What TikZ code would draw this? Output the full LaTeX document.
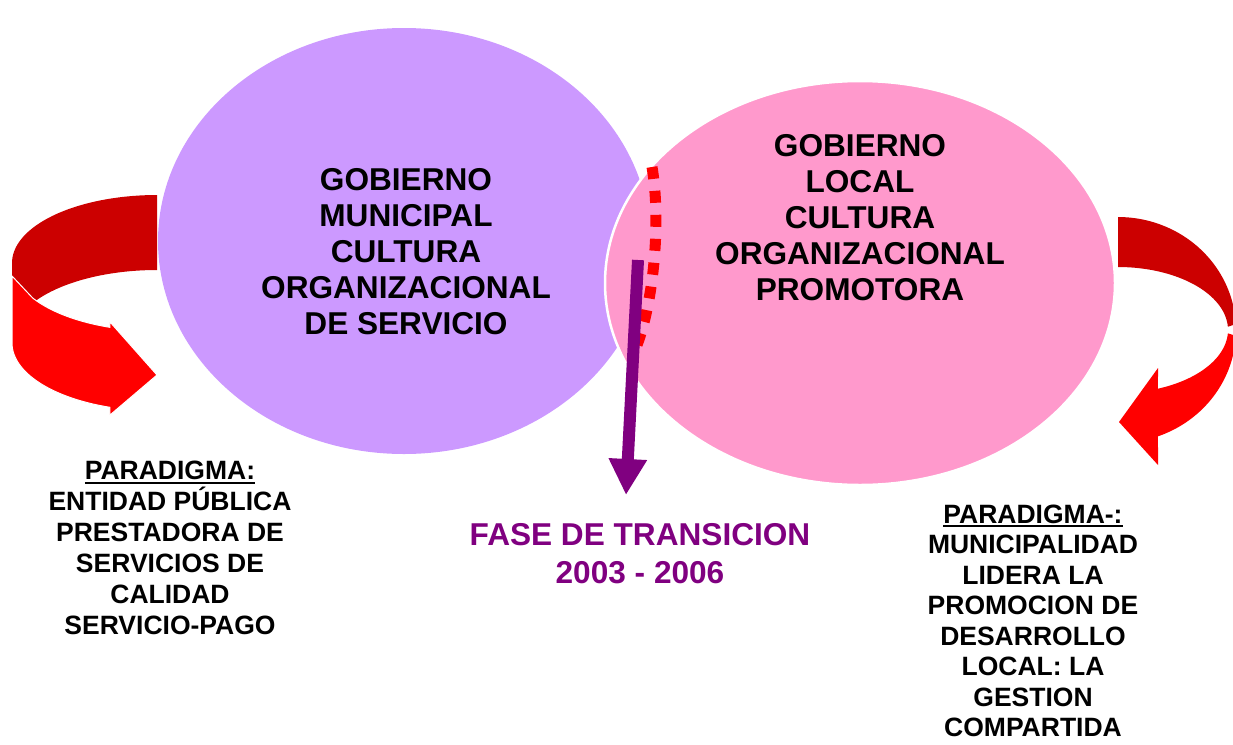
\documentclass[tikz,border=0pt]{standalone}
\usepackage{fontspec}
\setmainfont{Liberation Sans}
\usetikzlibrary{arrows.meta,shapes.geometric}
\definecolor{lav}{HTML}{CC99FF}
\definecolor{pinkc}{HTML}{FF99CC}
\definecolor{dred}{HTML}{CC0000}
\definecolor{bred}{HTML}{FF0000}
\definecolor{purp}{HTML}{800080}
\newcommand\myul[1]{\setbox0\hbox{#1}\rlap{\rule[-4pt]{\wd0}{2pt}}\box0}
\tikzset{
  ell/.style={ellipse,inner sep=0pt,outer sep=0pt},
  bigtxt/.style={align=center,inner sep=0pt,font=\fontsize{31.6}{36}\selectfont\bfseries},
  fasetxt/.style={align=center,inner sep=0pt,text=purp,font=\fontsize{31.6}{38}\selectfont\bfseries},
  partxt/.style={align=center,inner sep=0pt,font=\fontsize{26.5}{31}\selectfont\bfseries},
  partxtr/.style={align=center,inner sep=0pt,font=\fontsize{26.5}{30.5}\selectfont\bfseries},
  dotline/.style={draw=bred,line width=11pt,dash pattern=on 12pt off 12pt},
  purparrow/.style={draw=purp,line width=12pt,-{Triangle[length=36pt,width=36pt]}}
}
\begin{document}
\begin{tikzpicture}[x=1pt,y=-1pt]
\useasboundingbox (0,0) rectangle (1233,744);
% ellipses
\node[ell,fill=lav,minimum width=492pt,minimum height=426pt] (gm) at (404,241) {};
\node[ell,fill=pinkc,draw=white,line width=2.5pt,minimum width=510pt,minimum height=404pt] (gl) at (860,283) {};
% ellipse texts
\node[bigtxt] (tgm) at (406,251.5) {GOBIERNO\\MUNICIPAL\\CULTURA\\ORGANIZACIONAL\\DE SERVICIO};
\node[bigtxt] (tgl) at (860,217.5) {GOBIERNO\\LOCAL\\CULTURA\\ORGANIZACIONAL\\PROMOTORA};
% left curved arrow
\fill[dred] plot[domain=90:180,samples=40] ({157+145*cos(\x)},{263-68*sin(\x)}) -- (12,276)
  -- plot[domain=149:90,samples=40] ({157+145*cos(\x)},{338-68*sin(\x)}) -- cycle;
\filldraw[fill=bred,draw=white,line width=1pt] (12,276)
  -- plot[domain=211:251,samples=30] ({157+145*cos(\x)},{263-68*sin(\x)})
  -- (110,322) -- (157,375) -- (110,415)
  -- plot[domain=251:180,samples=30] ({157+145*cos(\x)},{343-68*sin(\x)}) -- cycle;
% right curved arrow
\fill[dred] plot[domain=90:3,samples=40] ({1118+118*cos(\x)},{330-113*sin(\x)})
  -- plot[domain=3:90,samples=40] ({1118+110*cos(\x)},{330-63*sin(\x)}) -- cycle;
\fill[bred] plot[domain=-3:-70.2,samples=40] ({1118+118*cos(\x)},{330-113*sin(\x)})
  -- (1158,465) -- (1119,422) -- (1158,368)
  -- plot[domain=-68.7:-3,samples=40] ({1118+110*cos(\x)},{330-63*sin(\x)}) -- cycle;
% transition markers
\coordinate (d1) at (652,167);
\coordinate (d2) at (637,345);
\draw[dotline] (d1) .. controls (661,220) and (654,300) .. (d2);
\coordinate (p1) at (638,260);
\coordinate (p2) at (626,495);
\draw[purparrow] (p1) -- (p2);
% texts below
\node[fasetxt] (fase) at (640,554) {FASE DE TRANSICION\\2003 - 2006};
\node[partxt] (parL) at (170,548) {\myul{PARADIGMA:}\\ENTIDAD PÚBLICA\\PRESTADORA DE\\SERVICIOS DE\\CALIDAD\\SERVICIO-PAGO};
\node[partxtr] (parR) at (1033,621) {\myul{PARADIGMA-:}\\MUNICIPALIDAD\\LIDERA LA\\PROMOCION DE\\DESARROLLO\\LOCAL: LA\\GESTION\\COMPARTIDA};
\end{tikzpicture}
\end{document}
